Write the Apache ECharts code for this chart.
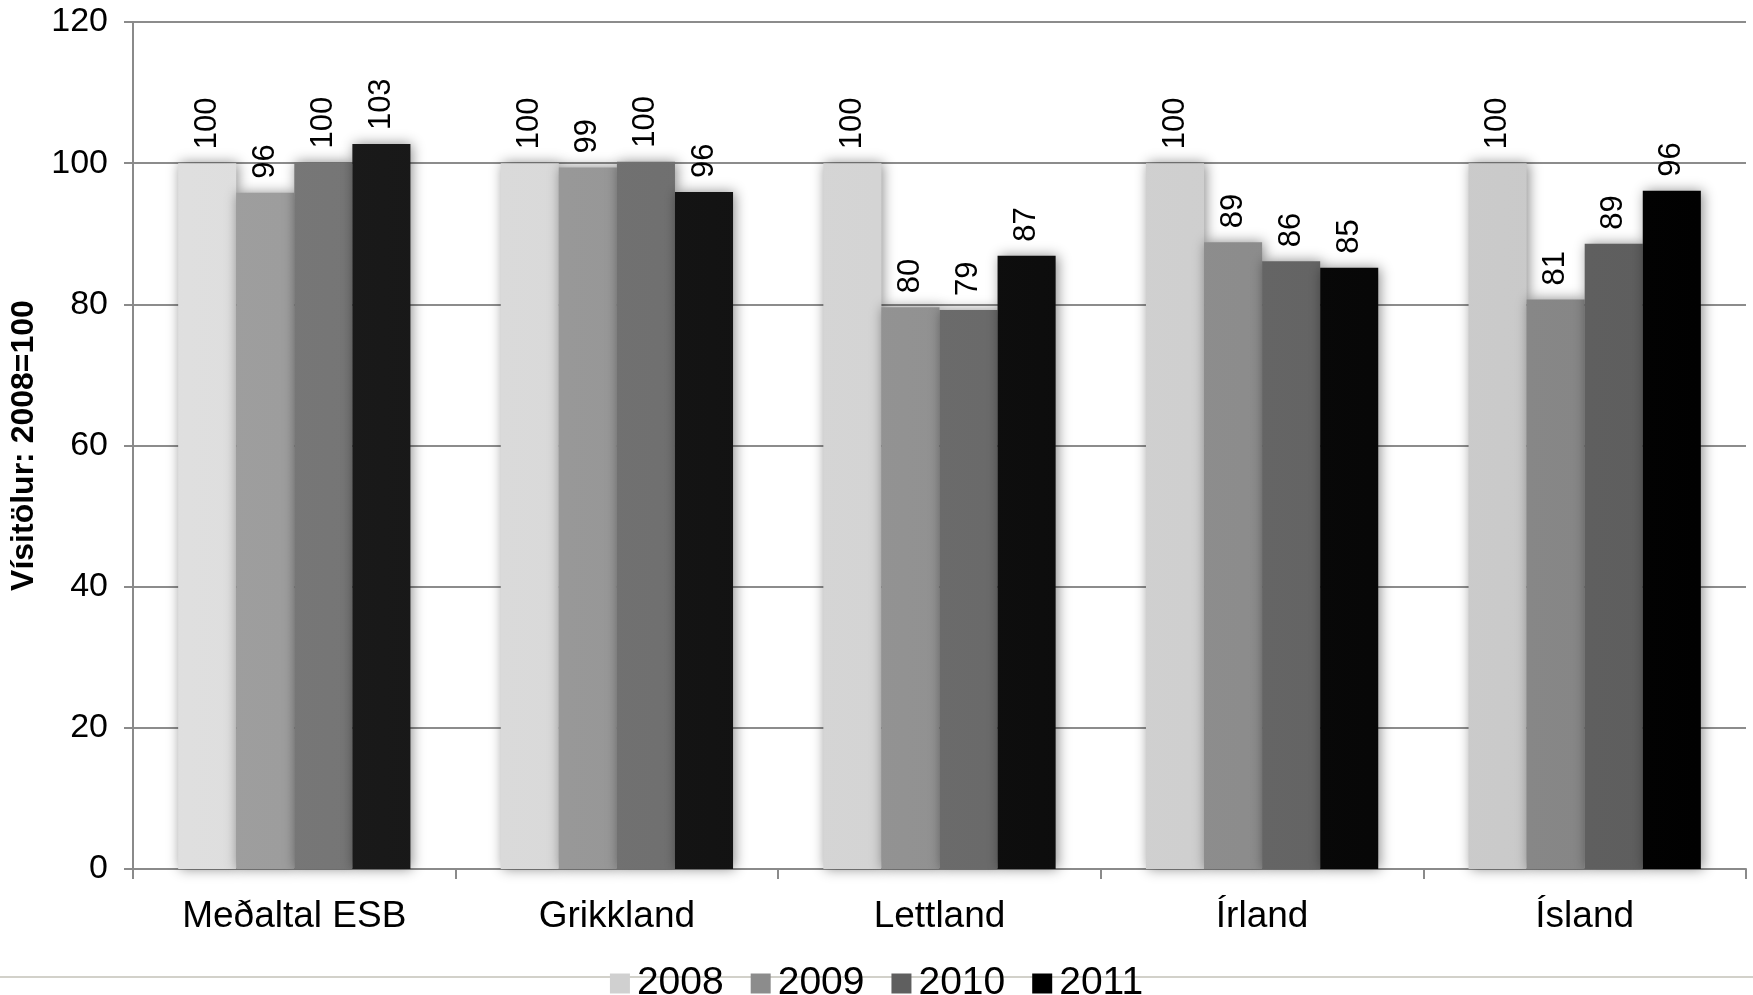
<!DOCTYPE html>
<html>
<head>
<meta charset="utf-8">
<script src="https://cdn.jsdelivr.net/npm/echarts@6/dist/echarts.min.js"></script>
<style>html,body{margin:0;padding:0;background:#fff;}#c{width:1753px;height:995px;}</style>
</head>
<body>
<div id="c"></div>
<script>
const categories = ['Meðaltal ESB', 'Grikkland', 'Lettland', 'Írland', 'Ísland'];
const years = ['2008', '2009', '2010', '2011'];
const v2008 = [100, 100, 100, 100, 100];
const v2009 = [95.8, 99.4, 79.6, 88.8, 80.7];
const v2010 = [100.1, 100.2, 79.2, 86.1, 88.6];
const v2011 = [102.7, 95.9, 86.9, 85.2, 96.1];
const yTicks = [0, 20, 40, 60, 80, 100, 120];

const FONT = 'Liberation Sans, Arial, sans-serif';
const W = 1753;
function grad(c1, c2) {
  return {type: 'linear', x: 0, y: 0, x2: W, y2: 0, global: true,
    colorStops: [{offset: 0, color: c1}, {offset: 1, color: c2}]};
}
const barColors = [
  grad('#e2e2e2', '#c6c6c6'),
  grad('#a2a2a2', '#838383'),
  grad('#7c7c7c', '#5c5c5c'),
  grad('#202020', '#000000')
];
const legendColors = ['#d0d0d0', '#8c8c8c', '#5f5f5f', '#000000'];
const seriesData = [v2008, v2009, v2010, v2011];

const chart = echarts.init(document.getElementById('c'), null, {renderer: 'canvas'});
chart.setOption({
  animation: false,
  backgroundColor: '#ffffff',
  textStyle: {fontFamily: FONT},
  grid: {left: 133, right: 7, top: 22, bottom: 126, containLabel: false},
  legend: {
    data: years.map((y, i) => ({name: y, itemStyle: {color: legendColors[i]}})),
    left: 'center', top: 959,
    icon: 'rect', itemWidth: 20, itemHeight: 20, itemGap: 27,
    textStyle: {fontFamily: FONT, fontSize: 39, color: '#000', padding: [0, 0, 0, 2]}
  },
  graphic: [{
    type: 'line', z: -10, silent: true,
    shape: {x1: 0, y1: 977, x2: W, y2: 977},
    style: {stroke: '#d2d1ca', lineWidth: 2}
  }],
  xAxis: {
    type: 'category', data: categories,
    axisLine: {lineStyle: {color: '#8a8a8a', width: 2}},
    axisTick: {show: true, length: 10, lineStyle: {color: '#8a8a8a', width: 2}},
    axisLabel: {fontFamily: FONT, fontSize: 37, color: '#000', margin: 29}
  },
  yAxis: {
    type: 'value', min: yTicks[0], max: yTicks[yTicks.length - 1], interval: 20,
    name: 'Vísitölur: 2008=100', nameLocation: 'middle', nameGap: 92, nameRotate: 90,
    nameTextStyle: {fontFamily: FONT, fontSize: 32, fontWeight: 'bold', color: '#000'},
    axisLine: {show: true, lineStyle: {color: '#8a8a8a', width: 2}},
    axisTick: {show: true, length: 9, lineStyle: {color: '#8a8a8a', width: 2}},
    splitLine: {show: true, lineStyle: {color: '#8c8c8c', width: 2}},
    axisLabel: {fontFamily: FONT, fontSize: 34, color: '#000', margin: 25}
  },
  series: seriesData.map((d, i) => ({
    name: years[i], type: 'bar', data: d,
    barGap: '0%', barCategoryGap: '28%',
    itemStyle: {color: barColors[i], shadowBlur: 12, shadowColor: 'rgba(0,0,0,0.45)', shadowOffsetX: 2, shadowOffsetY: 0},
    label: {
      show: true, position: 'top', rotate: 90, distance: 14,
      align: 'left', verticalAlign: 'middle',
      fontFamily: FONT, fontSize: 31, color: '#000',
      formatter: p => Math.round(p.value)
    }
  }))
});
</script>
</body>
</html>
